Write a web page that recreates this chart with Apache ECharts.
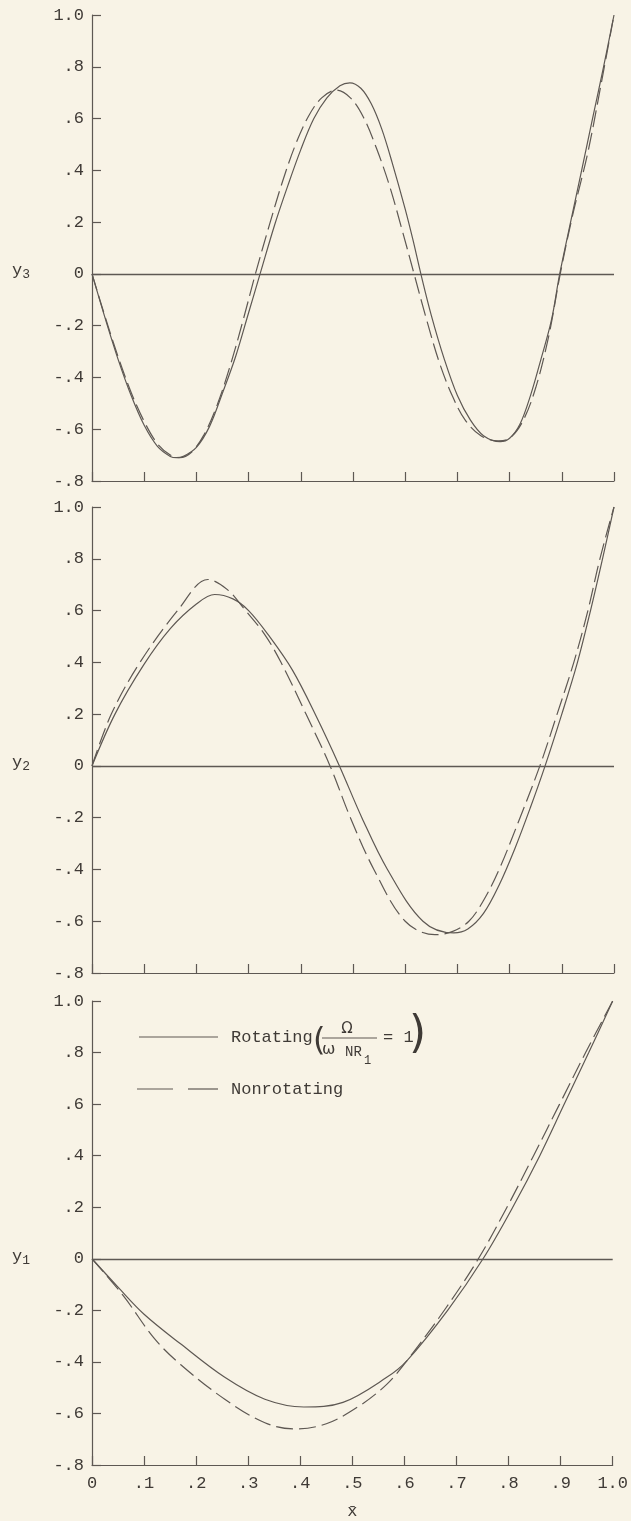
<!DOCTYPE html>
<html>
<head>
<meta charset="utf-8">
<script src="https://cdn.jsdelivr.net/npm/echarts@6/dist/echarts.min.js"></script>
<style>
  html, body { margin: 0; padding: 0; background: #f8f3e6; }
  #chart { width: 631px; height: 1521px; }
</style>
</head>
<body>
<div id="chart"></div>
<script>
// Mode shapes y1, y2, y3 along the blade, rotating vs nonrotating.
const xTickLabels = ['0', '.1', '.2', '.3', '.4', '.5', '.6', '.7', '.8', '.9', '1.0'];

// third mode
const y3Rotating = [
  [0, 0], [0.025, -0.17], [0.05, -0.33], [0.075, -0.47], [0.1, -0.585], [0.125, -0.665],
  [0.15, -0.705], [0.162, -0.71], [0.175, -0.705], [0.2, -0.67], [0.225, -0.59],
  [0.25, -0.46], [0.275, -0.32], [0.3, -0.15], [0.322, 0], [0.35, 0.19], [0.375, 0.34],
  [0.4, 0.48], [0.425, 0.6], [0.45, 0.68], [0.475, 0.727], [0.494, 0.738], [0.515, 0.717],
  [0.535, 0.657], [0.555, 0.56], [0.575, 0.43], [0.6, 0.25], [0.615, 0.13], [0.63, 0],
  [0.65, -0.16], [0.675, -0.33], [0.7, -0.47], [0.725, -0.565], [0.75, -0.625],
  [0.782, -0.648], [0.8, -0.635], [0.82, -0.58], [0.84, -0.47], [0.86, -0.33],
  [0.88, -0.18], [0.896, 0], [0.92, 0.23], [0.938, 0.4], [0.96, 0.61], [0.98, 0.8], [1.0, 1.0]
];
const y3Nonrotating = [
  [0, 0], [0.025, -0.165], [0.05, -0.32], [0.075, -0.458], [0.1, -0.57], [0.125, -0.655],
  [0.15, -0.7], [0.168, -0.71], [0.19, -0.69], [0.215, -0.62], [0.24, -0.505],
  [0.265, -0.353], [0.29, -0.175], [0.313, 0], [0.34, 0.19], [0.365, 0.357], [0.39, 0.5],
  [0.415, 0.61], [0.44, 0.68], [0.468, 0.71], [0.495, 0.68], [0.52, 0.605], [0.545, 0.485],
  [0.57, 0.34], [0.595, 0.163], [0.617, 0], [0.64, -0.17], [0.665, -0.34], [0.69, -0.47],
  [0.715, -0.565], [0.745, -0.625], [0.778, -0.645], [0.8, -0.635], [0.825, -0.57],
  [0.85, -0.44], [0.875, -0.24], [0.897, 0], [0.92, 0.22], [0.95, 0.47], [0.975, 0.73],
  [1.0, 1.0]
];

// second mode
const y2Rotating = [
  [0, 0], [0.044, 0.2], [0.099, 0.39], [0.15, 0.53], [0.2, 0.625], [0.235, 0.662],
  [0.27, 0.645], [0.3, 0.6], [0.34, 0.5], [0.384, 0.37], [0.43, 0.19], [0.474, 0],
  [0.517, -0.2], [0.566, -0.4], [0.634, -0.6], [0.693, -0.645], [0.72, -0.63],
  [0.75, -0.57], [0.78, -0.46], [0.81, -0.32], [0.84, -0.16], [0.868, 0], [0.9, 0.2],
  [0.93, 0.4], [0.955, 0.6], [0.978, 0.8], [1.0, 1.0]
];
const y2Nonrotating = [
  [0, 0], [0.037, 0.2], [0.092, 0.4], [0.164, 0.6], [0.222, 0.72], [0.26, 0.68],
  [0.29, 0.61], [0.33, 0.51], [0.362, 0.4], [0.41, 0.2], [0.456, 0], [0.495, -0.2],
  [0.54, -0.4], [0.6, -0.6], [0.657, -0.652], [0.69, -0.64], [0.722, -0.6], [0.75, -0.52],
  [0.78, -0.4], [0.82, -0.2], [0.858, 0], [0.891, 0.2], [0.923, 0.4], [0.95, 0.6],
  [0.973, 0.8], [1.0, 1.0]
];

// first mode
const y1Rotating = [
  [0, 0], [0.05, -0.11], [0.1, -0.215], [0.17, -0.33], [0.255, -0.46], [0.332, -0.545],
  [0.407, -0.575], [0.482, -0.557], [0.566, -0.46], [0.605, -0.395], [0.683, -0.2],
  [0.751, 0], [0.808, 0.2], [0.86, 0.4], [0.907, 0.6], [0.954, 0.8], [1.0, 1.0]
];
const y1Nonrotating = [
  [0, 0], [0.06, -0.143], [0.12, -0.31], [0.17, -0.41], [0.255, -0.545], [0.332, -0.636],
  [0.39, -0.66], [0.45, -0.64], [0.514, -0.57], [0.566, -0.487], [0.605, -0.395],
  [0.68, -0.19], [0.742, 0], [0.797, 0.2], [0.848, 0.4], [0.898, 0.6], [0.948, 0.8],
  [1.0, 1.0]
];

const panels = [
  { name: '3', rot: y3Rotating, non: y3Nonrotating },
  { name: '2', rot: y2Rotating, non: y2Nonrotating },
  { name: '1', rot: y1Rotating, non: y1Nonrotating }
];

const INK = '#5e5853';
const TEXT = '#3f3a36';
const FONT = '"Liberation Mono", "DejaVu Sans Mono", monospace';
const gridTops = [15, 507, 1001];
const gridH = 466;

function fmtY(v) {
  const r = Math.round(v * 10);
  if (r === 0) return '0';
  if (r === 10) return '1.0';
  return (r < 0 ? '-' : '') + '.' + Math.abs(r);
}

const grid = [], xAxis = [], yAxis = [], series = [], graphic = [];
panels.forEach((p, i) => {
  grid.push({ left: 92, width: 522, top: gridTops[i], height: gridH });
  const last = i === panels.length - 1;
  xAxis.push({
    type: 'value', gridIndex: i, min: 0, max: 1, interval: 0.1,
    axisLine: { show: true, onZero: false, lineStyle: { color: INK, width: 1.2 } },
    axisTick: { show: true, inside: true, length: 9, lineStyle: { color: INK, width: 1.2 } },
    splitLine: { show: false },
    axisLabel: {
      show: last, margin: 10, color: TEXT, fontFamily: FONT, fontSize: 17,
      formatter: v => xTickLabels[Math.round(v * 10)]
    },
    name: last ? 'x\u0304' : '',
    nameLocation: 'middle', nameGap: 38,
    nameTextStyle: { color: TEXT, fontFamily: FONT, fontSize: 17 }
  });
  yAxis.push({
    type: 'value', gridIndex: i, min: -0.8, max: 1.0, interval: 0.2,
    axisLine: { show: true, onZero: false, lineStyle: { color: INK, width: 1.2 } },
    axisTick: { show: true, inside: true, length: 9, lineStyle: { color: INK, width: 1.2 } },
    splitLine: { show: false },
    axisLabel: { margin: 8, color: TEXT, fontFamily: FONT, fontSize: 17, formatter: fmtY }
  });
  series.push({
    type: 'line', xAxisIndex: i, yAxisIndex: i, data: p.rot,
    showSymbol: false, smooth: 0.35, silent: true,
    lineStyle: { color: INK, width: 1.2, type: 'solid' },
    markLine: {
      silent: true, symbol: ['none', 'none'], label: { show: false },
      lineStyle: { color: INK, width: 1.3, type: 'solid' },
      data: [{ yAxis: 0 }]
    }
  });
  series.push({
    type: 'line', xAxisIndex: i, yAxisIndex: i, data: p.non,
    showSymbol: false, smooth: 0.35, silent: true,
    lineStyle: { color: INK, width: 1.2, type: [17, 6] }
  });
  // axis title y_n beside the zero line
  const zeroY = gridTops[i] + gridH * (1.0 / 1.8);
  graphic.push({
    type: 'text', left: 12, top: zeroY - 12,
    style: {
      text: '{a|y}{s|' + p.name + '}',
      rich: {
        a: { fontFamily: FONT, fontSize: 17, fill: TEXT },
        s: { fontFamily: FONT, fontSize: 13, fill: TEXT, padding: [8, 0, 0, 0] }
      }
    }
  });
});

// legend block in the lowest panel
const LY1 = 1037, LY2 = 1089;
graphic.push(
  { type: 'line', shape: { x1: 139, y1: LY1, x2: 218, y2: LY1 }, style: { stroke: INK, lineWidth: 1.2 } },
  { type: 'text', x: 231, y: LY1, style: { text: 'Rotating', font: '17px ' + FONT, fill: TEXT, verticalAlign: 'middle' } },
  { type: 'text', x: 313, y: 1042, style: { text: '(', font: '32px "DejaVu Sans"', fill: TEXT, verticalAlign: 'middle' } },
  { type: 'text', x: 347, y: 1029, style: { text: 'Ω', font: '15px "DejaVu Sans"', fill: TEXT, align: 'center', verticalAlign: 'middle' } },
  { type: 'line', shape: { x1: 322, y1: 1038, x2: 377, y2: 1038 }, style: { stroke: INK, lineWidth: 1.2 } },
  { type: 'text', x: 322, y: 1050, style: { text: 'ω', font: '16px "DejaVu Sans"', fill: TEXT, verticalAlign: 'middle' } },
  { type: 'text', x: 345, y: 1052, style: { text: 'NR', font: '14px ' + FONT, fill: TEXT, verticalAlign: 'middle' } },
  { type: 'text', x: 364, y: 1061, style: { text: '1', font: '12px ' + FONT, fill: TEXT, verticalAlign: 'middle' } },
  { type: 'text', x: 383, y: 1037, style: { text: '= 1', font: '17px ' + FONT, fill: TEXT, verticalAlign: 'middle' } },
  { type: 'text', x: 409, y: 1036, style: { text: ')', font: '44px "DejaVu Sans"', fill: TEXT, verticalAlign: 'middle' } },
  { type: 'line', shape: { x1: 137, y1: LY2, x2: 173, y2: LY2 }, style: { stroke: INK, lineWidth: 1.2 } },
  { type: 'line', shape: { x1: 188, y1: LY2, x2: 218, y2: LY2 }, style: { stroke: INK, lineWidth: 1.2 } },
  { type: 'text', x: 231, y: LY2, style: { text: 'Nonrotating', font: '17px ' + FONT, fill: TEXT, verticalAlign: 'middle' } }
);

const chart = echarts.init(document.getElementById('chart'));
chart.setOption({
  backgroundColor: '#f8f3e6',
  animation: false,
  grid, xAxis, yAxis, series, graphic
});
</script>
</body>
</html>
